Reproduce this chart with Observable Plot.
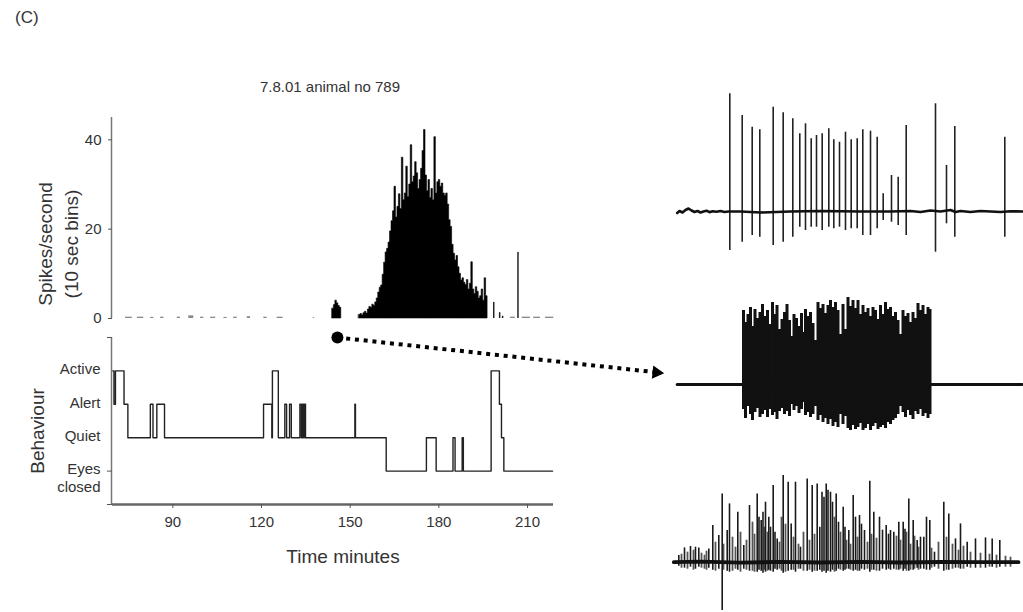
<!DOCTYPE html>
<html><head><meta charset="utf-8">
<script src="https://cdn.jsdelivr.net/npm/d3@7"></script>
<script src="https://cdn.jsdelivr.net/npm/@observablehq/plot@0.6"></script>
<style>
body{margin:0;background:#fff;}
#fig{position:relative;width:1023px;height:612px;overflow:hidden;background:#fff;font-family:"Liberation Sans",Arial,sans-serif;color:#333;}
#fig svg{position:absolute;}
.t{position:absolute;white-space:nowrap;}
</style></head><body><div id="fig"></div>
<script>
// ---------- data ----------
const panelLabel = "(C)";
const chartTitle = "7.8.01 animal no 789";
const timeDomain = [70.6, 219.8];           // minutes
const timeTicks = [90, 120, 150, 180, 210];
const rateTicks = [0, 20, 40];
const rateDomain = [0, 45];
const binWidth = 0.5;                        // minutes per drawn bin

// main firing episode (spikes/second), bins from 154.0 min
const burstStart = 154.0;
const burstRates = [
 0.8,1.0,0.7,1.2,1.5,1.1,2.0,2.6,2.4,3.1,
 2.8,3.6,4.5,5.8,6.9,7.4,9.8,12.5,14.8,15.6,
 17.0,19.5,21.8,24.0,29.5,22.6,25.0,27.8,24.5,36.0,
 26.5,28.0,34.0,27.2,30.0,38.8,30.5,31.8,35.0,32.5,
 29.0,31.0,33.5,37.5,42.2,32.0,28.5,31.0,27.0,29.0,
 26.5,40.6,28.0,30.5,31.0,29.5,30.2,28.0,27.5,28.0,
 25.5,22.0,20.5,16.5,14.5,13.0,14.0,11.5,10.0,8.5,
 9.0,8.0,7.5,8.6,6.5,7.8,12.6,6.5,5.5,7.0,
 6.0,4.5,5.0,6.5,4.0,9.0,5.0
];
// small episode at 145 min
const blipStart = 145.0;
const blipRates = [2.2, 3.0, 4.0, 3.4, 2.8, 2.4];
// isolated bins after the episode
const lateTimes = [199.5, 201.5, 202.5, 207.7];
const lateRates = [3.6, 1.3, 0.5, 14.8];
// sparse low-rate stretches
const lowStart = [75.0,79.0,83.5,86.9,92.5,96.4,100.4,103.8,108.3,111.6,116.2,121.8,126.3,138.5,205.2,209.2,213.1,217.1];
const lowEnd   = [77.3,81.2,84.6,88.0,93.6,98.1,101.5,105.5,109.4,112.8,117.3,122.9,128.3,139.0,206.9,212.0,215.4,219.9];
const lowRate  = [0.3,0.3,0.25,0.3,0.3,0.6,0.3,0.3,0.25,0.3,0.4,0.3,0.3,0.2,0.3,0.3,0.3,0.3];

// pointer from the 146.7 min episode to the middle trace
const pointerFrom = {t: 146.7, rate: -4.25};
const pointerTo   = {t: 255.3, rate: -12.1};

// behaviour
const behaviourLevels = [1, 2, 3, 4];
const behaviourNames = ["Eyes\nclosed", "Quiet", "Alert", "Active"];
const behaviourTickLevels = [0, 1, 5];
const behaviourDomain = [0, 5];
const behaviourTimes  = [70.7,71.1,71.6,74.5,75.8,83.4,84.3,85.6,88.2,121.7,124.5,124.7,126.7,128.9,129.5,130.5,131.1,134.0,134.5,134.9,135.3,135.5,135.9,152.6,152.8,163.2,176.8,180.1,185.8,186.5,188.9,189.3,198.7,201.5,202.2,203.0,219.5];
const behaviourStates = [4,3,4,3,2,3,2,3,2,3,2,4,2,3,2,3,2,3,2,3,2,3,2,3,2,1,2,1,2,1,2,1,4,3,2,1,1];

// raw traces (time units across the strip, amplitude units)
const topSpikeT    = [69.3,81.7,91.7,99.3,112.7,122.7,132.3,139.3,145,150.7,156,161.7,168.3,173.3,179,185,190.7,196.7,202.3,210,216.7,222.7,231,237.7,245.7,275,286,294.3,344.3];
const topSpikeUp   = [117.7,96,84.3,81.7,104.3,98.7,92.7,77.7,87.7,72.7,76,77.7,82.7,71.7,69.3,79.3,71.7,72.7,81.7,80.3,74.3,17.7,36,34.3,86,107.7,46,85,74.3];
const topSpikeDown = [39,30.7,24,25.7,34,30.7,25.7,15.7,19,15.7,15.7,19,15.7,17.3,15.7,19,17.3,17.3,24,24,17.3,9,10.7,14,24,40.7,12.3,25.7,25.7];
const topBaseT = [16.7,19,22,25,28,31,34,37,40,43,46,49,52,56,60,64,68,80,100,130,160,200,230,250,260,265,270,280,290,295,300,310,320,330,340,350,362];
const topBaseV = [-1.5,0.5,-1,1.5,3,1,-0.5,0.5,-1,0,0.8,-0.7,0.3,-0.2,0.5,-0.5,0,0,-1,0,0.5,0,0,0.5,-0.5,0.3,1,0,1.5,-0.5,0.5,-0.5,0.5,0,-0.5,0.3,0];

const midSpikeT = [83,85,87.5,90,92,94.5,97,99.5, 102,104.5,107,109.5,112,114,116.5,119, 121.5,124,126.5,129,131.5,133.5,136,138.5,141,143.5,145,
 147.5,150,152.5,155,157.5,160,162.5,165,167.5,170,172.5, 175,177.5,180,182.5,185,187.5,190,192.5,195,197.5,200,202.5,
 205,207.5,210,212.5,215,217.5,220,222.5,225,227.5,230,232.5,235,237.5,240, 242.5,245,247.5,250,252.5,255,257.5,260,262.5,265,267.5,269.5];
const midSpikeUp = [74,62,70,77,58,75,66,72, 80,68,74,60,82,70,79,55, 65,72,80,64,48,70,66,58,71,52,75,
 68,72,61,44,82,76,80,71,79,84,77, 82,74,50,80,55,87,78,84,76,84,70,79,
 72,76,68,77,74,65,79,70,82,75,77,68,72,64,50, 74,68,71,62,72,66,81,74,79,70,77,75];
const midSpikeDown = [25,34,22,30,36,28,24,33, 30,26,33,25,31,28,35,27, 24,30,27,32,20,26,22,29,25,18,31,
 28,33,30,22,36,31,38,34,40,35,42, 38,43,30,40,32,44,46,41,45,43,39,46,
 44,40,46,42,39,45,43,41,44,38,40,36,34,30,22, 28,33,26,31,35,27,30,25,32,29,34,30];
const midBaseT = [16.7, 82, 270, 361.7];
const midBaseV = [0, 0, 0, 0];

const lowSpikeT = [18.3,24,30,35,38.3,48.3,52.3,58.3,61.7,66.7,69,77.3,83.3,89,96.7,98.5,100.7,102.5,105,108.3,110,112.7,114.5,116.7,122.7,127.7,130.7,135,140,146.7,151.7,156.7,159.3,161.5,163.5,165.7,167.5,170,172,175.7,178,182.7,184.5,188.3,192.7,195,199,201,204,209.3,213.3,219,222,225.7,228,230,233.3,238.3,242.7,244.5,248.3,252.7,256.7,260,263.3,266,269.3,274,283.3,288.3,295,300,306.7,315,325,331.7,339.3];
const lowSpikeUp = [6.7,14.3,15.7,15,14.3,13.3,36.7,26.7,68.3,31.7,58.3,50,16.7,56.7,68.3,45,41.7,50,60,45,35,76.7,30,23.3,86.7,80,38.3,80,15,83.3,76.7,78.3,35,70,65,78.3,72,70,60,68.3,40,55,35,31.7,66.7,45,46.7,38,31.7,81,50,45,32,36.7,28,31.7,30,40,40,33,63.3,41.7,21.7,25,25,45,41.7,10,60,48.3,23.3,38.3,20,23.3,24.3,23.3,21.7];
const lowSpikeDown = [4,6,5,7,5,6,8,7,48.3,9,10,8,7,9,10,8,9,11,10,8,9,10,7,8,11,9,8,10,7,9,10,9,8,10,9,11,9,10,8,9,7,9,8,7,9,8,9,7,8,10,8,9,7,8,7,8,7,8,9,7,9,8,6,7,7,8,8,5,9,8,6,7,5,6,6,5,5];
// lower-amplitude units filling between the large spikes
const lowFillT    = [21,27,33,41,44,46,55,63,72,75,80,86,92,94,104,107,119,121,125,133,138,143,149,154,174,180,186,190,197,207,211,216,236,240,246,250,254,258,271,278,286,292,298,303,310,320,329,336,345,350];
const lowFillUp   = [8,10,12,9,7,11,20,18,25,15,30,22,40,28,35,30,20,45,38,25,18,30,22,28,45,30,22,18,25,20,28,24,26,22,30,18,26,15,14,20,25,18,12,16,10,9,8,7,6,5];
const lowFillDown = [6,7,8,6,7,8,9,8,9,7,10,8,9,10,8,9,7,9,10,8,7,9,8,9,10,8,7,8,9,7,8,9,8,7,9,8,7,8,6,7,8,7,6,7,6,6,5,6,5,5];
const lowBaseT = [13.3,40,80,120,160,200,240,280,320,358];
const lowBaseV = [0,0.5,-0.5,0.3,-0.3,0.4,-0.3,0.2,0,0];

// ---------- build tables ----------
function stepSeries(start, rates, group) {
  const pts = rates.map((r, i) => ({t: start + i * binWidth, rate: r, group}));
  pts.push({t: start + rates.length * binWidth, rate: rates[rates.length - 1], group});
  return pts;
}
const episodes = [...stepSeries(blipStart, blipRates, "blip"), ...stepSeries(burstStart, burstRates, "burst")];
const lateBins = lateTimes.map((t, i) => ({t, rate: lateRates[i]}));
const lowBins = lowStart.map((s, i) => ({start: s, end: lowEnd[i], rate: lowRate[i]}));
const behaviour = behaviourTimes.map((t, i) => ({t, state: behaviourStates[i]}));
const behaviourLabels = behaviourLevels.map((l, i) => ({level: l, name: behaviourNames[i]}));
const pointer = [{t1: pointerFrom.t, r1: pointerFrom.rate, t2: pointerTo.t, r2: pointerTo.rate}];
const mk = (T, U, D) => T.map((t, i) => ({t, up: U[i], down: D[i]}));
const mkb = (T, V) => T.map((t, i) => ({t, v: V[i]}));

const FONT = '"Liberation Sans", Arial, sans-serif';
const baseStyle = {background: "transparent", overflow: "visible", fontFamily: FONT, color: "#333"};
const fig = document.getElementById("fig");
function place(el, left, top) { el.style.left = left + "px"; el.style.top = top + "px"; fig.appendChild(el); }
function addText(txt, left, top, size, extra) {
  const d = document.createElement("div"); d.className = "t"; d.textContent = txt;
  d.style.fontSize = size + "px"; Object.assign(d.style, extra || {}); place(d, left, top); return d;
}

// ---------- histogram ----------
const hist = Plot.plot({
  width: 560, height: 228, marginLeft: 112, marginRight: 7, marginTop: 17, marginBottom: 10,
  style: baseStyle,
  x: {domain: timeDomain, axis: null},
  y: {domain: rateDomain, axis: null},
  marks: [
    Plot.ruleX([timeDomain[0]], {y1: rateDomain[0], y2: rateDomain[1], stroke: "#777", strokeWidth: 1.5, dx: -1}),
    Plot.axisY({ticks: rateTicks, tickSize: 4, tickPadding: 7, stroke: "#555", fill: "#333", fontSize: 15, label: null}),
    Plot.rectY(lowBins, {x1: "start", x2: "end", y: "rate", fill: "#8a8a8a"}),
    Plot.areaY(episodes, {x: "t", y: "rate", z: "group", curve: "step-after", fill: "#000", stroke: "#000", strokeWidth: 0.6}),
    Plot.rectY(lateBins, {x1: "t", x2: d => d.t + binWidth, y: "rate", fill: "#222"}),
    Plot.link(pointer, {x1: "t1", y1: "r1", x2: "t2", y2: "r2", stroke: "#000", strokeWidth: 4, strokeDasharray: "4,4.8"}),
    Plot.dot(pointer, {x: "t1", y: "r1", r: 6, fill: "#000"}),
    Plot.dot(pointer, {x: "t2", y: "r2", symbol: "triangle", r: 5, fill: "#000", rotate: 96, dx: -2}),
    Plot.text(["Spikes/second\n(10 sec bins)"], {text: d => d, frameAnchor: "left", textAnchor: "middle", rotate: -90, dx: -56, dy: 26, fontSize: 19, lineHeight: 1.35, fill: "#333"})
  ]
});
place(hist, 0, 100);

// ---------- behaviour ----------
const beh = Plot.plot({
  width: 560, height: 239, marginLeft: 112, marginRight: 7, marginTop: 7, marginBottom: 65,
  style: baseStyle,
  x: {domain: timeDomain, axis: null},
  y: {domain: behaviourDomain, axis: null},
  marks: [
    Plot.ruleX([timeDomain[0]], {y1: behaviourDomain[0], y2: behaviourDomain[1], stroke: "#777", strokeWidth: 1.5, dx: -1}),
    Plot.ruleY([behaviourDomain[0]], {stroke: "#666", strokeWidth: 2.5}),
    Plot.axisY({ticks: behaviourTickLevels, tickSize: 5, tickFormat: () => "", stroke: "#555", label: null}),
    Plot.text(behaviourLabels, {y: "level", text: "name", frameAnchor: "left", dx: -12, textAnchor: "end", lineAnchor: "top", dy: -9, fontSize: 15, lineHeight: 1.15, fill: "#333"}),
    Plot.axisX({ticks: timeTicks, tickSize: 4, tickPadding: 8, stroke: "#555", fill: "#333", fontSize: 15, label: null, dx: 3}),
    Plot.line(behaviour, {x: "t", y: "state", curve: "step-after", stroke: "#222", strokeWidth: 1.4}),
    Plot.text(["Behaviour"], {text: d => d, frameAnchor: "left", textAnchor: "middle", rotate: -90, dx: -75, dy: 10, fontSize: 19, fill: "#333"}),
    Plot.text(["Time minutes"], {text: d => d, frameAnchor: "bottom", lineAnchor: "middle", dx: 10, dy: 52, fontSize: 19, fill: "#333"})
  ]
});
place(beh, 0, 330);

// ---------- raw traces ----------
function trace(layers, base, yDomain, h, bw) {
  return Plot.plot({
    width: 363, height: h, margin: 0, style: baseStyle,
    x: {domain: [0, 363], axis: null}, y: {domain: yDomain, axis: null},
    marks: [
      ...layers.map(([spikes, color, sw]) => Plot.ruleX(spikes, {x: "t", y1: d => -d.down, y2: "up", stroke: color, strokeWidth: sw})),
      Plot.line(base, {x: "t", y: "v", stroke: "#111", strokeWidth: bw})
    ]
  });
}
place(trace([[mk(topSpikeT, topSpikeUp, topSpikeDown), "#222", 1.6]], mkb(topBaseT, topBaseV), [-47, 123], 170, 2.6), 660, 88);
place(trace([[mk(midSpikeT, midSpikeUp, midSpikeDown), "#111", 3.0]], mkb(midBaseT, midBaseV), [-56, 94], 150, 3), 660, 290);
place(trace([[mk(lowFillT, lowFillUp, lowFillDown), "#555", 1.8], [mk(lowSpikeT, lowSpikeUp, lowSpikeDown), "#1a1a1a", 1.6]], mkb(lowBaseT, lowBaseV), [-50.3, 96.7], 147, 3.8), 660, 465);

// ---------- titles ----------
addText(panelLabel, 15, 8, 17);
addText(chartTitle, 180, 78, 15, {width: "300px", textAlign: "center"});
</script></body></html>
